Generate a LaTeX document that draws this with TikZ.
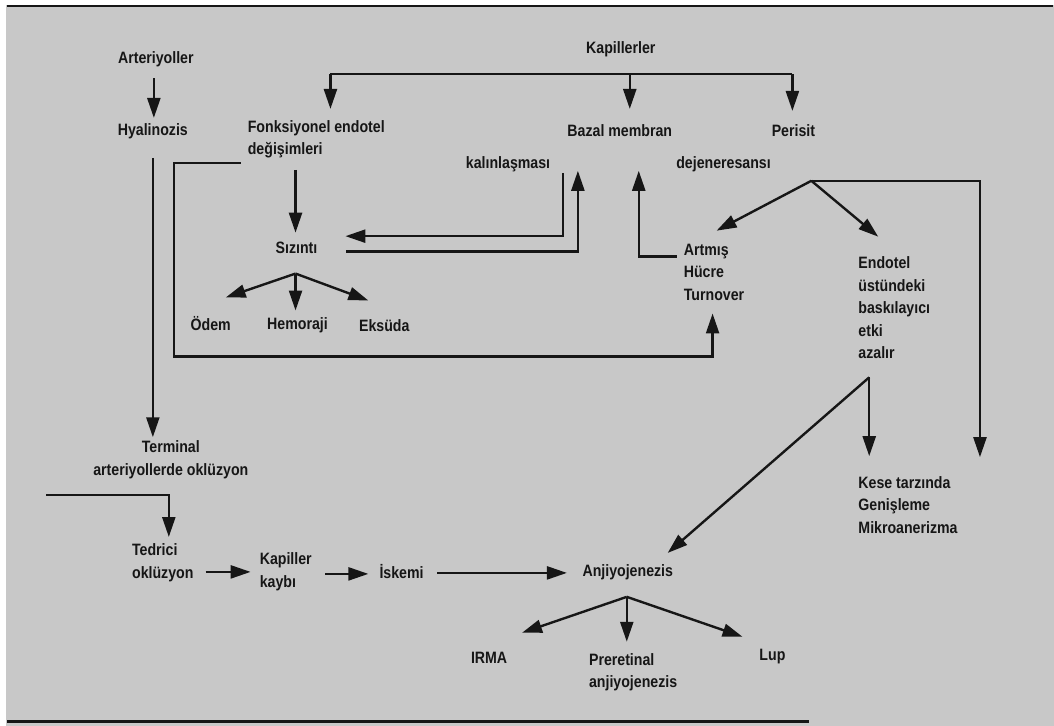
\documentclass[tikz,border=0pt]{standalone}
\usepackage{fontspec}
\setmainfont{Liberation Sans}[FakeStretch=0.86]
\usetikzlibrary{arrows.meta}
\definecolor{paper}{RGB}{200,200,200}
\definecolor{ink}{RGB}{22,22,22}
\begin{document}
\begin{tikzpicture}[x=1pt,y=-1pt,>={Triangle[length=20pt,width=13pt]},
    lbl/.style={inner sep=0pt,text=ink,font=\bfseries\fontsize{16.5}{22.5}\selectfont},
    lines/.style={lbl,align=left,anchor=west},
    every path/.style={line width=2.4pt,draw=ink}]
        \useasboundingbox (0,0) rectangle (1054,725);
        \begin{scope}
            \fill[white] (0,0) rectangle (1054,725);
            \fill[paper] (6,5) rectangle (1054,725);
            \draw (6,5)--(1054,5);
            \draw (6,722)--(810,722);
            \node[lbl] (art) at (155,58) {Arteriyoller};
            \node[lbl] (hya) at (152,130) {Hyalinozis};
            \node[lines] (fon) at (246,138.5) {Fonksiyonel endotel\\değişimleri};
            \node[lbl] (kap) at (621,48) {Kapillerler};
            \node[lbl] (baz) at (620,130) {Bazal membran};
            \node[lbl] (per) at (794,130) {Perisit};
            \node[lbl] (kal) at (508,163) {kalınlaşması};
            \node[lbl] (dej) at (724,163) {dejeneresansı};
            \node[lbl] (siz) at (296,247) {Sızıntı};
            \node[lbl] (odem) at (210,323) {Ödem};
            \node[lbl] (hem) at (297,325) {Hemoraji};
            \node[lbl] (eks) at (384,325) {Eksüda};
            \node[lines] (art2) at (683,271.5) {Artmış\\Hücre\\Turnover};
            \node[lines] (endo) at (858,307.5) {Endotel\\üstündeki\\baskılayıcı\\etki\\azalır};
            \node[lbl,align=center] (term) at (170,459.5) {Terminal\\arteriyollerde oklüzyon};
            \node[lines] (ted) at (130,563) {Tedrici\\oklüzyon};
            \node[lines] (kayb) at (258,572) {Kapiller\\kaybı};
            \node[lines] (isk) at (378,572) {İskemi};
            \node[lbl] (anj) at (628,572) {Anjiyojenezis};
            \node[lbl] (irma) at (489,658) {IRMA};
            \node[lines] (pre) at (588,672.5) {Preretinal\\anjiyojenezis};
            \node[lbl] (lup) at (773,657) {Lup};
            \node[lines] (kese) at (858,505) {Kese tarzında\\Genişleme\\Mikroanerizma};
            \coordinate (kl) at (330,73);
            \coordinate (km) at (630,73);
            \coordinate (kr) at (793,73);
            \coordinate (lp) at (173,356);
            \coordinate (pf) at (812,180);
            \coordinate (rt) at (981,457);
            \coordinate (ef) at (870,377);
            \coordinate (tl) at (45,495);
            \coordinate (sf) at ([shift={(-1,26)}]siz.center);
            \coordinate (af) at ([shift={(-1,25)}]anj.center);
            \draw[->] ([shift={(-2,19)}]art.center)--([shift={(1,-13)}]hya.center);
            \draw[->] ([shift={(0,27)}]hya.center)--([shift={(-18,-22.5)}]term.center);
            \draw (kl)--(kr);
            \draw[->] (kl)--([shift={(84,-30.5)}]fon.west);
            \draw[->] (km)--([shift={(10,-22)}]baz.center);
            \draw[->] (kr)--([shift={(-1,-20)}]per.center);
            \draw[->] ([shift={(49,30.5)}]fon.west)--([shift={(-1,-15)}]siz.center);
            \draw[->] ([shift={(-6,23.5)}]fon.west) -| (lp) -| ([shift={(30,41.5)}]art2.west);
            \draw[->] ([shift={(55,9)}]kal.center) |- ([shift={(49,-11.5)}]siz.center);
            \draw[->] ([shift={(50,4)}]siz.center) -| ([shift={(70,7)}]kal.center);
            \draw[->] ([shift={(-6,-15.5)}]art2.west) -| ([shift={(19,40)}]baz.center);
            \draw[->] (sf)--([shift={(15,-26)}]odem.center);
            \draw[->] (sf)--([shift={(-2,-15)}]hem.center);
            \draw[->] (sf)--([shift={(-16,-25)}]eks.center);
            \draw[->] (pf)--([shift={(34,-41.5)}]art2.west);
            \draw[->] (pf)--([shift={(21,-71.5)}]endo.west);
            \draw[->] (pf) -| (rt);
            \draw[->] (ef)--([shift={(12,-49)}]kese.west);
            \draw[->] (ef)--([shift={(40,-19)}]anj.center);
            \draw[->] (tl) -| ([shift={(38,-26)}]ted.west);
            \draw[->] ([shift={(75,9)}]ted.west)--([shift={(-8,0)}]kayb.west);
            \draw[->] ([shift={(67,2)}]kayb.west)--([shift={(-10,2)}]isk.west);
            \draw[->] ([shift={(59,1)}]isk.west)--([shift={(-61,1)}]anj.center);
            \draw[->] (af)--([shift={(33,-25)}]irma.center);
            \draw[->] (af)--([shift={(39,-30.5)}]pre.west);
            \draw[->] (af)--([shift={(-30,-20)}]lup.center);
        \end{scope}
    \end{tikzpicture}
\end{document}
